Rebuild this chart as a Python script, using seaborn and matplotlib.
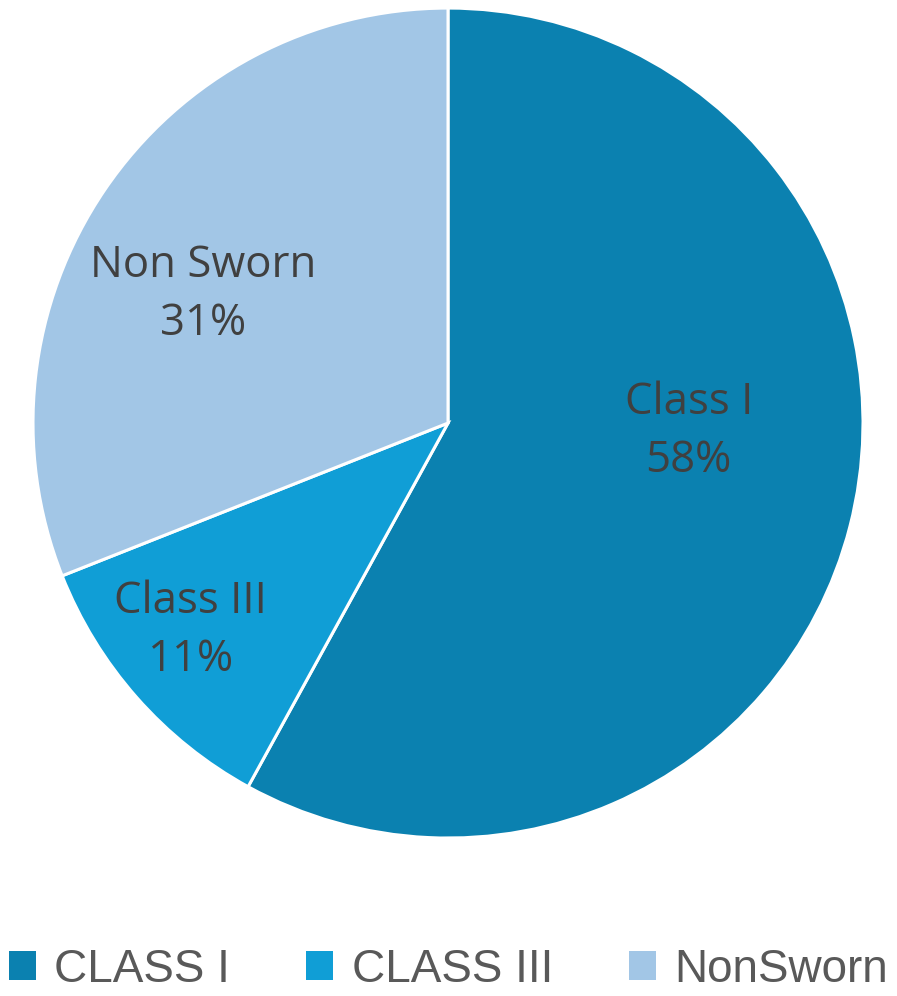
import matplotlib
matplotlib.use("Agg")
import matplotlib.pyplot as plt
import seaborn as sns
from matplotlib.patches import Patch

# Workforce composition by classification
slice_labels = ["Class I", "Class III", "Non Sworn"]
legend_labels = ["CLASS I", "CLASS III", "NonSworn"]
shares = [58, 11, 31]
colors = ["#0B81B0", "#109ED6", "#A2C6E6"]

# Label anchor points inside the pie (axes data units, radius = 1)
label_xy = [(0.58, -0.02), (-0.62, -0.50), (-0.59, 0.31)]

sns.set_theme(style="white")
plt.rcParams["font.family"] = ["Open Sans", "DejaVu Sans"]

fig = plt.figure(figsize=(8.97, 9.96), dpi=100)
ax = fig.add_axes([0.0368, 0.1586, 0.9253, 0.8333])

wedges, _ = ax.pie(
    shares,
    colors=colors,
    startangle=90,
    counterclock=False,
    radius=1.0,
    wedgeprops=dict(edgecolor="white", linewidth=2.2),
)
ax.set_xlim(-1, 1)
ax.set_ylim(-1, 1)
ax.set_aspect("auto")
ax.axis("off")

for name, val, (x, y) in zip(slice_labels, shares, label_xy):
    ax.text(x, y, f"{name}\n{val}%", ha="center", va="center",
            fontsize=31.5, color="#404040", linespacing=1.4)

handles = [Patch(facecolor=c, edgecolor="none") for c in colors]
fig.legend(
    handles, legend_labels,
    loc="center", bbox_to_anchor=(0.5, 0.026), ncol=3, frameon=False,
    prop={"family": ["Liberation Sans", "DejaVu Sans"], "size": 33},
    labelcolor="#595959",
    handlelength=0.6, handleheight=0.6, handletextpad=0.4, columnspacing=1.65,
)

fig.savefig("out.png", dpi=100, facecolor="white")
